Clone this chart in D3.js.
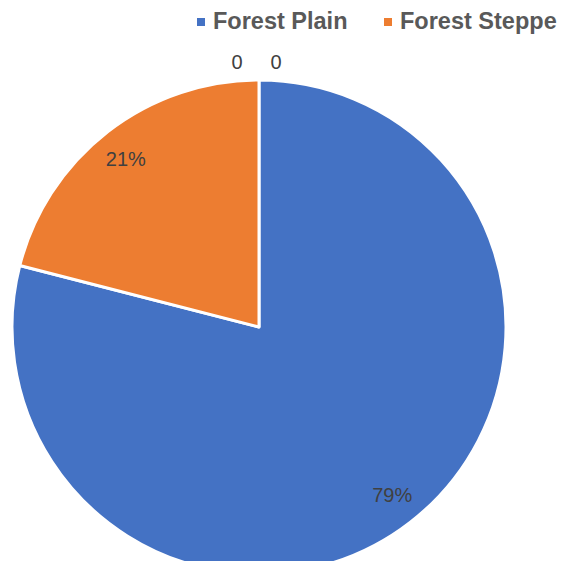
<!DOCTYPE html>
<html><head><meta charset="utf-8">
<script src="https://cdn.jsdelivr.net/npm/d3@7"></script>
<style>body{margin:0;background:#fff;overflow:hidden}</style>
</head><body>
<svg id="c" width="563" height="561"></svg>
<script>
const categories = ["Forest Plain", "Forest Steppe", "", ""];
const values = [0.79, 0.21, 0, 0];
const legendItems = ["Forest Plain", "Forest Steppe"];
const colors = ["#4472C4", "#ED7D31", "#A5A5A5", "#FFC000"];

const svg = d3.select("#c");
const cx = 259, cy = 327, r = 247;
const data = categories.map((c, i) => ({ c, v: values[i], i }));
const pie = d3.pie().value(d => d.v).sort(null);
const arcs = pie(data);
const arc = d3.arc().innerRadius(0).outerRadius(r);
const g = svg.append("g").attr("transform", `translate(${cx},${cy})`);
g.selectAll("path").data(arcs.filter(a => a.data.v > 0)).join("path")
  .attr("d", arc).attr("fill", d => colors[d.data.i])
  .attr("stroke", "#fff").attr("stroke-width", 3).attr("stroke-linejoin", "round");

const labelArc = d3.arc().innerRadius(r * 0.88).outerRadius(r * 0.88);
const fmt = d3.format(".0%");
g.selectAll("text.pl").data(arcs.filter(a => a.data.v > 0)).join("text")
  .attr("class", "pl")
  .attr("x", d => labelArc.centroid(d)[0])
  .attr("y", d => labelArc.centroid(d)[1] + (d.data.i === 0 ? -4 : 4))
  .attr("text-anchor", "middle").attr("dy", "0.35em")
  .attr("font-family", "Liberation Sans, Arial, sans-serif").attr("font-size", 20)
  .attr("fill", "#404040").text(d => fmt(d.data.v));

// zero-value labels outside at top
const outArc = d3.arc().innerRadius(r + 18).outerRadius(r + 18);
const zeros = arcs.filter(a => a.data.v === 0);
g.selectAll("text.zl").data(zeros).join("text")
  .attr("class", "zl")
  .attr("x", (d, k) => outArc.centroid(d)[0] + (k === 0 ? -22 : 17))
  .attr("y", d => outArc.centroid(d)[1])
  .attr("text-anchor", "middle").attr("dy", "0.35em")
  .attr("font-family", "Liberation Sans, Arial, sans-serif").attr("font-size", 20)
  .attr("fill", "#404040").text(d => String(d.data.v));

// legend
const legendX = [197, 384];
const lg = svg.append("g");
legendItems.forEach((name, i) => {
  lg.append("rect").attr("x", legendX[i]).attr("y", 18).attr("width", 8).attr("height", 8)
    .attr("fill", colors[i]);
  lg.append("text").attr("x", legendX[i] + 16).attr("y", 29)
    .attr("font-family", "Liberation Sans, Arial, sans-serif").attr("font-weight", "bold")
    .attr("font-size", 23.5).attr("fill", "#595959").text(name);
});
</script>
</body></html>
